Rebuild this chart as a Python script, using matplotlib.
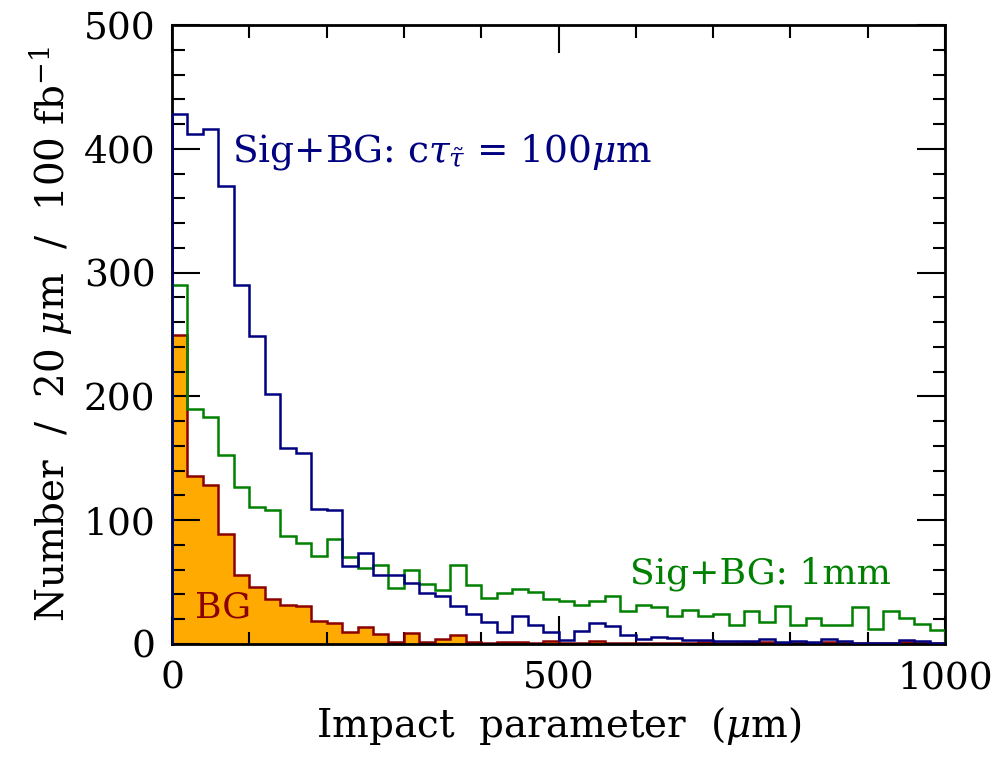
import numpy as np
import matplotlib
matplotlib.use("Agg")
import matplotlib.pyplot as plt
from matplotlib.ticker import MultipleLocator

# ---- data (20 um bins from 0 to 1000 um) ----
bin_width = 20
bin_edges = np.arange(0, 1000 + bin_width, bin_width)

sig_bg_100um = [428, 412, 416, 370, 290, 249, 202, 158, 154, 109,
                108, 63, 73.5, 56, 56, 49.5, 41.5, 39, 31, 24,
                17.5, 10, 22.5, 15, 10, 3.5, 10.5, 16.5, 14.5, 7,
                4, 5.8, 4.4, 3.5, 3, 2.5, 2, 2, 4, 1.5,
                2, 1.5, 4, 2, 1, 1, 1, 3.5, 2, 1]

sig_bg_1mm = [290, 189.5, 183.5, 152.5, 127, 111, 108.5, 87.5, 81.5, 71,
              84.5, 70.5, 61.5, 63.5, 45, 60, 48.5, 43.5, 64, 47.5,
              37, 41.5, 44.5, 42.3, 36, 34.3, 31.6, 34.3, 38.6, 26.5,
              31.6, 30, 22.5, 27.3, 22.5, 24.1, 15.2, 26.8, 17.9, 31,
              15, 20.6, 15, 15, 29.5, 11.7, 26.5, 20.6, 16, 11.5]

bg = [250, 136, 128.5, 89, 56, 45.7, 36, 31.4, 30.6, 18.7,
      17.1, 9.8, 13.5, 7.9, 1.7, 9, 1.2, 3.6, 7.4, 1.5,
      0.4, 1.7, 1.7, 0.4, 2, 0.5, 1, 2.5, 1, 0.5,
      0.5, 1, 1, 0.5, 1.5, 1, 0.5, 1.5, 1.5, 0.5,
      1, 0.5, 1.5, 1, 0.5, 0.5, 1, 1.5, 0.5, 0.5]

x_ticks = [0, 500, 1000]
y_ticks = [0, 100, 200, 300, 400, 500]

# ---- style ----
plt.rcParams['font.family'] = ['DejaVu Serif']
plt.rcParams['mathtext.fontset'] = 'dejavuserif'

navy = '#000080'
green = '#008000'
darkred = '#8b0000'
orange = '#ffaa00'

fig = plt.figure(figsize=(10, 7.62), dpi=100)
ax = fig.add_axes([0.172, 0.155, 0.773, 0.812])

ax.stairs(bg, bin_edges, fill=True, color=orange, zorder=1)
ax.stairs(bg, bin_edges, color=darkred, linewidth=1.8, zorder=2)
ax.stairs(sig_bg_1mm, bin_edges, color=green, linewidth=1.8, zorder=3)
ax.stairs(sig_bg_100um, bin_edges, color=navy, linewidth=1.8, zorder=4)

ax.set_xlim(0, 1000)
ax.set_ylim(0, 500)
ax.set_xticks(x_ticks)
ax.set_yticks(y_ticks)
ax.xaxis.set_minor_locator(MultipleLocator(100))
ax.yaxis.set_minor_locator(MultipleLocator(20))
ax.tick_params(which='both', direction='in', top=True, right=True,
               width=1.5, colors='black')
ax.tick_params(which='major', length=20, labelsize=27, pad=12)
ax.tick_params(which='minor', length=9)
for s in ax.spines.values():
    s.set_linewidth(2)

ax.set_xlabel(r'Impact  parameter  ($\mu$m)', fontsize=28, labelpad=6)
ax.set_ylabel(r'Number  /  20 $\mu$m  /  100 fb$^{-1}$', fontsize=28, labelpad=6)

ax.text(77, 390, r'Sig+BG: c$\tau_{\tilde{\tau}}$ = 100$\mu$m', color=navy,
        fontsize=27, va='baseline', ha='left', zorder=5)
ax.text(593, 49, 'Sig+BG: 1mm', color=green, fontsize=26,
        va='baseline', ha='left', zorder=5)
ax.text(30, 21, 'BG', color=darkred, fontsize=26,
        va='baseline', ha='left', zorder=5)

fig.savefig('out.png', dpi=100)
